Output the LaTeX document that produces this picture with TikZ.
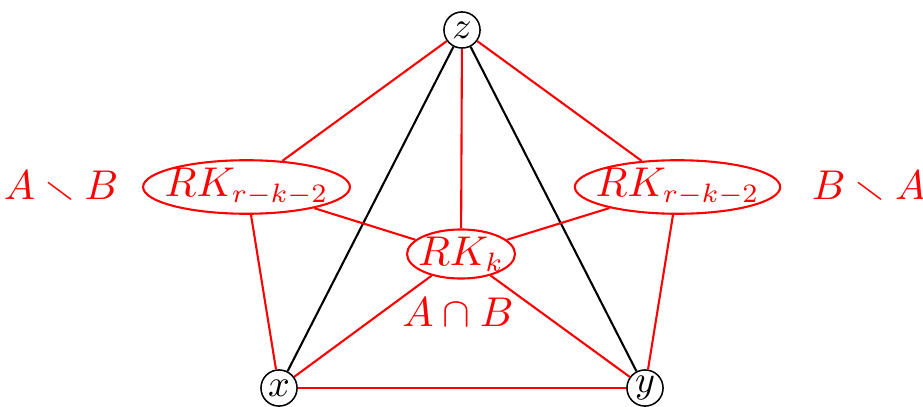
\documentclass[tikz,border=0pt]{standalone}
\usepackage{amssymb}
\usetikzlibrary{shapes.geometric}
\begin{document}
\begin{tikzpicture}[x=0.263pt,y=-0.263pt,
  font=\fontsize{10.5pt}{12.5pt}\selectfont,
  vert/.style={circle,draw,line width=0.4pt,inner sep=0pt,minimum size=9.5pt,font=\fontsize{10.3pt}{12pt}\selectfont},
  cl/.style={ellipse,draw=red,text=red,line width=0.55pt,inner sep=0pt},
  redl/.style={red,line width=0.55pt},
  blkl/.style={black,line width=0.55pt},
  lab/.style={text=red,inner sep=0pt}]
\useasboundingbox (0,0) rectangle (923,407);
\node[vert] (z) at (462,30) {$z$};
\node[vert] (x) at (279,388) {$x$};
\node[vert] (y) at (645,388) {$y$};
\node[cl,minimum width=54.4pt,minimum height=12.1pt] (L) at (246.5,187) {\makebox[0pt]{$RK_{r-k-2}$}};
\node[cl,minimum width=54pt,minimum height=12.1pt] (R) at (677.5,187) {\makebox[0pt]{$RK_{r-k-2}$}};
\node[cl,minimum width=28.4pt,minimum height=10.4pt] (C) at (461,254) {\makebox[0pt]{$RK_k$}};
\node[lab] (lAB) at (61,187) {$A\smallsetminus B$};
\node[lab] (lBA) at (869,187) {$B\smallsetminus A$};
\node[lab] (lcap) at (458,312) {$A\cap B$};
\draw[redl] (z) -- (L);
\draw[redl] (z) -- (R);
\draw[redl] (z) -- (C);
\draw[blkl] (z) -- (x);
\draw[blkl] (z) -- (y);
\draw[redl] (L) -- (C);
\draw[redl] (R) -- (C);
\draw[redl] (L) -- (x);
\draw[redl] (R) -- (y);
\draw[redl] (C) -- (x);
\draw[redl] (C) -- (y);
\draw[redl] (x) -- (y);
\end{tikzpicture}
\end{document}
